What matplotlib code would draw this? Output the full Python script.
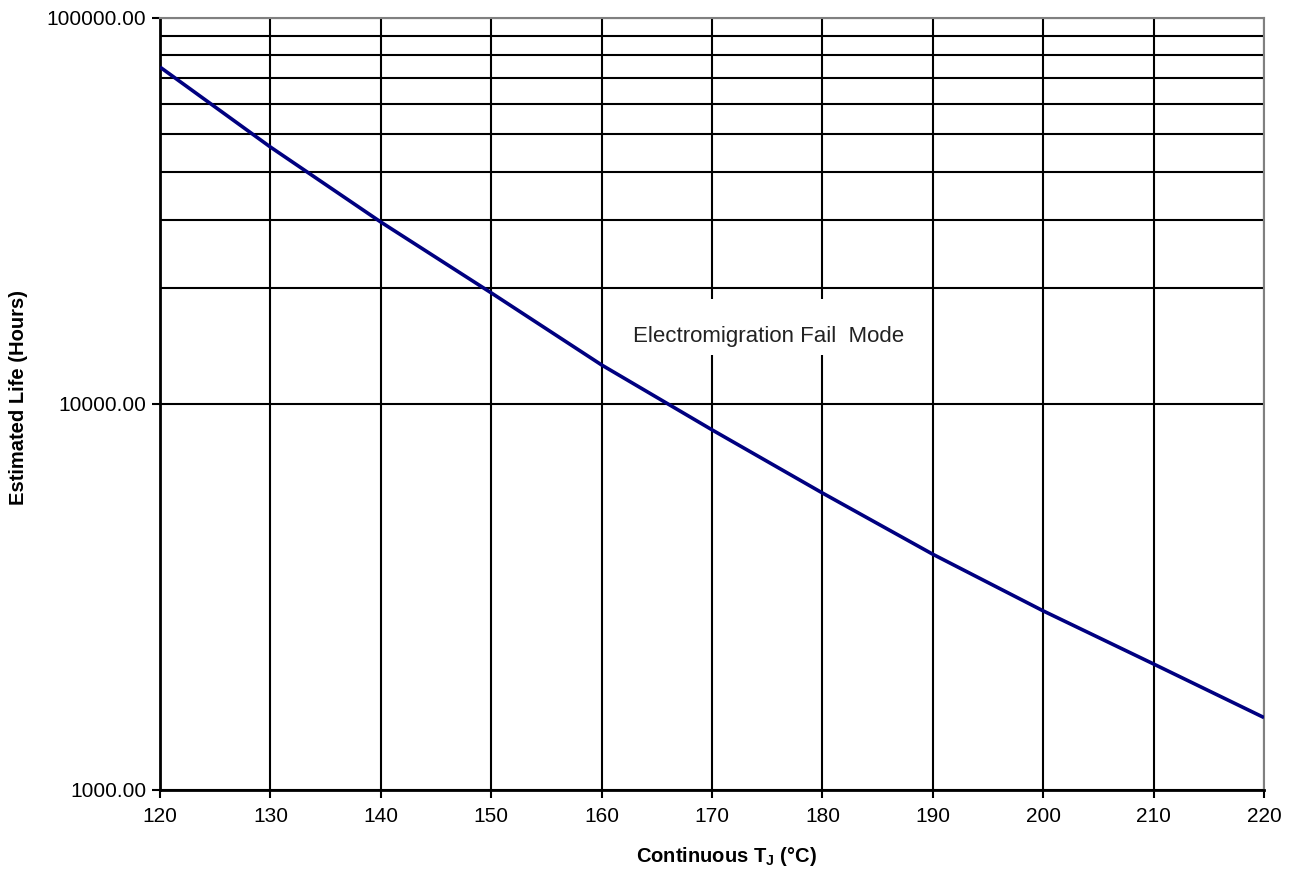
import matplotlib.pyplot as plt
from matplotlib.ticker import FixedLocator, FuncFormatter, NullFormatter

plt.rcParams['font.family'] = ['Liberation Sans', 'DejaVu Sans']

# Junction temperature (deg C) and estimated life (hours)
temps = [120, 130, 140, 150, 160, 170, 180, 190, 200, 210, 220]
life_hours = [74600, 46300, 29600, 19400, 12620, 8570, 5880, 4080, 2910, 2120, 1540]

x_ticks = list(range(120, 221, 10))
y_major = [1000, 10000, 100000]
y_minor = [20000, 30000, 40000, 50000, 60000, 70000, 80000, 90000]

fig = plt.figure(figsize=(12.97, 8.73), dpi=100)
ax = fig.add_axes([0.1234, 0.0951, 0.8512, 0.8843])

ax.set_yscale('log')
ax.set_xlim(120, 220)
ax.set_ylim(1000, 100000)

ax.xaxis.set_major_locator(FixedLocator(x_ticks))
ax.yaxis.set_major_locator(FixedLocator(y_major))
ax.yaxis.set_minor_locator(FixedLocator(y_minor))
ax.yaxis.set_major_formatter(FuncFormatter(lambda v, p: '%.2f' % v))
ax.yaxis.set_minor_formatter(NullFormatter())

ax.grid(True, which='major', axis='both', color='black', linewidth=1.5)
ax.grid(True, which='minor', axis='y', color='black', linewidth=1.5)
ax.set_axisbelow(True)

ax.plot(temps, life_hours, color='#000080', linewidth=2.6, zorder=3,
        solid_capstyle='butt')

# white label box covering the grid behind the text
ax.add_patch(plt.Rectangle((0.4167, 0.5635), 0.2581, 0.0725, transform=ax.transAxes,
                           facecolor='white', edgecolor='none', zorder=1.5))
ax.text(0.4284, 0.588, 'Electromigration Fail  Mode', transform=ax.transAxes,
        fontsize=16, color='#222222', ha='left', va='center', zorder=2)

for side in ['top', 'right']:
    ax.spines[side].set_color('#808080')
    ax.spines[side].set_linewidth(1.5)
for side in ['left', 'bottom']:
    ax.spines[side].set_color('black')
    ax.spines[side].set_linewidth(2)

ax.tick_params(axis='both', which='major', direction='out', length=6, width=1.5,
               labelsize=15, colors='black')
ax.tick_params(axis='y', which='minor', length=0)
ax.tick_params(axis='x', pad=6)
ax.tick_params(axis='y', pad=4)

ax.set_xlabel('Continuous T$_\\mathregular{J}$ (°C)', fontsize=14.5, fontweight='bold')
ax.set_ylabel('Estimated Life (Hours)', fontsize=14.5, fontweight='bold')
ax.xaxis.set_label_coords(0.5127, -0.0868)
ax.yaxis.set_label_coords(-0.1286, 0.509)
ax.xaxis.label.set_va('center')
ax.yaxis.label.set_va('center')

plt.savefig('out.png', dpi=100)
